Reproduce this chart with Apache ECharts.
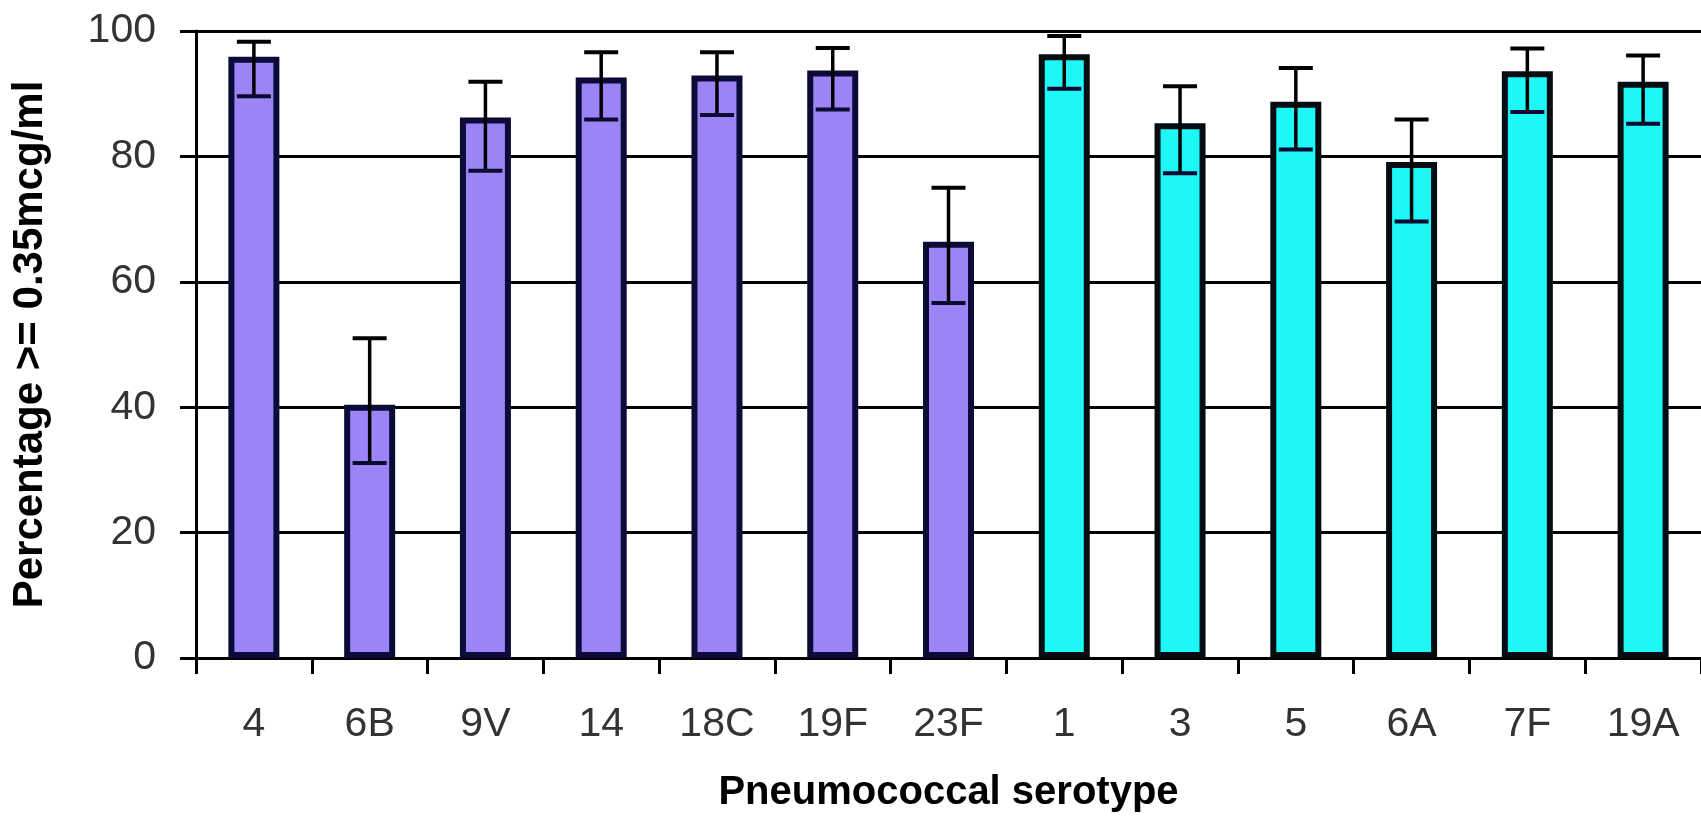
<!DOCTYPE html>
<html>
<head>
<meta charset="utf-8">
<script src="https://cdn.jsdelivr.net/npm/echarts@6/dist/echarts.min.js"></script>
<style>
  html, body { margin: 0; padding: 0; background: #ffffff; overflow: hidden; }
  #chart { width: 1701px; height: 818px; }
</style>
</head>
<body>
<div id="chart"></div>
<script>
// Serotypes on the x axis
const serotypes = ['4', '6B', '9V', '14', '18C', '19F', '23F', '1', '3', '5', '6A', '7F', '19A'];
// Vaccine group of each serotype (sets the bar colour)
const serotypeGroup = ['PCV7', 'PCV7', 'PCV7', 'PCV7', 'PCV7', 'PCV7', 'PCV7',
                       'PCV13', 'PCV13', 'PCV13', 'PCV13', 'PCV13', 'PCV13'];
// Percentage of subjects with IgG >= 0.35 mcg/ml
const percentResponders = [95.9, 40.4, 86.2, 92.6, 92.9, 93.7, 66.4, 96.3, 85.3, 88.7, 79.1, 93.6, 91.9];
// 95% confidence interval bounds
const ciLower = [89.6, 31.1, 77.7, 85.9, 86.6, 87.5, 56.6, 90.8, 77.3, 81.1, 69.6, 87.1, 85.2];
const ciUpper = [98.3, 51.0, 91.9, 96.6, 96.6, 97.3, 75.0, 99.2, 91.2, 94.1, 85.9, 97.2, 96.1];
// Value axis range
const yMin = 0, yMax = 100, yStep = 20;

const groupColor = { PCV7: '#9a84f6', PCV13: '#1ef7f6' };
const groupBorder = { PCV7: '#0c0a36', PCV13: '#050d12' };

const chart = echarts.init(document.getElementById('chart'), null, { renderer: 'canvas' });

const option = {
  backgroundColor: '#ffffff',
  animation: false,
  grid: { left: 196, right: -7, top: 31, bottom: 160, containLabel: false },
  xAxis: {
    type: 'category',
    data: serotypes,
    name: 'Pneumococcal serotype',
    nameLocation: 'middle',
    nameGap: 115,
    nameTextStyle: { fontFamily: 'Liberation Sans', fontWeight: 'bold', fontSize: 40, color: '#000' },
    axisLine: { lineStyle: { color: '#000', width: 3 } },
    axisTick: { show: true, inside: false, length: 16, lineStyle: { color: '#000', width: 3 } },
    axisLabel: { margin: 46, fontFamily: 'Liberation Sans', fontSize: 41, color: '#333333' },
    splitLine: { show: false }
  },
  yAxis: {
    type: 'value',
    min: yMin, max: yMax, interval: yStep,
    name: 'Percentage >= 0.35mcg/ml',
    nameLocation: 'middle',
    nameGap: 145,
    nameRotate: 90,
    nameTextStyle: { fontFamily: 'Liberation Sans', fontWeight: 'bold', fontSize: 42, color: '#000' },
    axisLine: { show: true, lineStyle: { color: '#000', width: 3 } },
    axisTick: { show: true, inside: false, length: 16, lineStyle: { color: '#000', width: 3 } },
    axisLabel: { margin: 40, fontFamily: 'Liberation Sans', fontSize: 41, color: '#333333' },
    splitLine: { show: true, lineStyle: { color: '#000', width: 3 } }
  },
  series: [
    {
      type: 'bar',
      barWidth: 51,
      data: percentResponders.map((v, i) => ({
        value: v,
        itemStyle: {
          color: groupColor[serotypeGroup[i]],
          borderColor: groupBorder[serotypeGroup[i]],
          borderWidth: 6
        }
      })),
      z: 2
    },
    {
      type: 'custom',
      z: 5,
      data: serotypes.map((s, i) => [i, ciLower[i], ciUpper[i]]),
      encode: { x: 0, y: [1, 2] },
      renderItem: function (params, api) {
        const idx = api.value(0);
        const lo = api.coord([idx, api.value(1)]);
        const hi = api.coord([idx, api.value(2)]);
        const half = 17;
        return {
          type: 'group',
          children: [
            { type: 'line', shape: { x1: hi[0], y1: hi[1], x2: lo[0], y2: lo[1] },
              style: { stroke: '#000', lineWidth: 3.5 } },
            { type: 'line', shape: { x1: hi[0] - half, y1: hi[1], x2: hi[0] + half, y2: hi[1] },
              style: { stroke: '#000', lineWidth: 4 } },
            { type: 'line', shape: { x1: lo[0] - half, y1: lo[1], x2: lo[0] + half, y2: lo[1] },
              style: { stroke: '#0c0a30', lineWidth: 4 } }
          ]
        };
      }
    }
  ]
};

chart.setOption(option);
</script>
</body>
</html>
